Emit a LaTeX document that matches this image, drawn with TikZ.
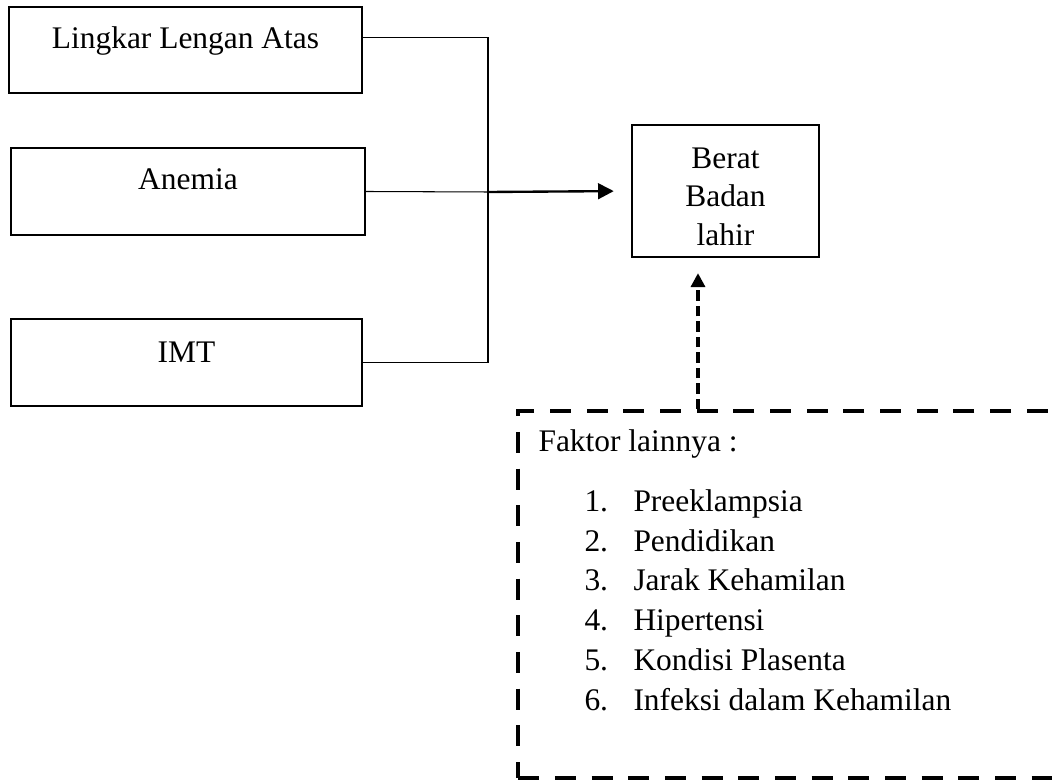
\documentclass[tikz,border=0pt]{standalone}
\usepackage{fontspec}
\setmainfont{Liberation Serif}
\usetikzlibrary{arrows.meta}

\begin{document}
\begin{tikzpicture}[x = 0.3817pt, y = -0.3817pt,
    font = \fontsize{12}{14}\selectfont,
    kotak/.style = {draw, line width = 0.9pt, inner sep = 0pt},
    kotakputus/.style = {draw, line width = 1.7pt, dash pattern = on 8pt off 6pt, inner sep = 0pt},
    teks/.style = {anchor = base, inner sep = 0pt},
    butir/.style = {anchor = base west, inner sep = 0pt},
    garis/.style = {line width = 0.4pt},
    panah/.style = {-{Triangle[length = 6pt, width = 6pt]}, line width = 0.9pt, shorten > = 6.5pt},
    panahputus/.style = {-{Triangle[length = 5.3pt, width = 5.3pt]}, line width = 1.3pt, dash pattern = on 4pt off 1.9pt, shorten > = 5.7pt}]
    \useasboundingbox (0,0) rectangle (1052,783);
    % Kotak kiri
    \node[kotak, minimum width = 134.7pt, minimum height = 32.8pt] (lla) at (185.5,50){};
    \node[teks] (tlla) at (185.5,49){Lingkar Lengan Atas};
    \node[kotak, minimum width = 135.1pt, minimum height = 33.2pt] (anemia) at (188,191.5){};
    \node[teks] (tanemia) at (188,190){Anemia};
    \node[kotak, minimum width = 134.0pt, minimum height = 33.2pt] (imt) at (186.5,362.5){};
    \node[teks] (timt) at (186.5,363){IMT};
    % Kotak Berat Badan lahir
    \node[kotak, minimum width = 71.4pt, minimum height = 50.4pt] (berat) at (725.5,191){};
    \node[teks] (tberat1) at (725.5,169){Berat};
    \node[teks] (tberat2) at (725.5,207){Badan};
    \node[teks] (tberat3) at (725.5,246){lahir};
    % Faktor lainnya (sisi kanan terpotong)
    \node[kotakputus, anchor = north west, minimum width = 206pt, minimum height = 140.1pt] (lain) at (516,409){};
    \node[butir] (tfaktor) at (538,452){Faktor lainnya :};
    \node[butir] (b1) at (584,512){\makebox[18.7pt][l]{1.}Preeklampsia};
    \node[butir] (b2) at (584,552){\makebox[18.7pt][l]{2.}Pendidikan};
    \node[butir] (b3) at (584,591){\makebox[18.7pt][l]{3.}Jarak Kehamilan};
    \node[butir] (b4) at (584,631){\makebox[18.7pt][l]{4.}Hipertensi};
    \node[butir] (b5) at (584,671){\makebox[18.7pt][l]{5.}Kondisi Plasenta};
    \node[butir] (b6) at (584,711){\makebox[18.7pt][l]{6.}Infeksi dalam Kehamilan};
    % Garis penghubung
    \coordinate (simpul) at (488,192);
    \coordinate (sumbu) at (698,0);
    \draw[garis] ([yshift = 4.6pt]lla.east) -| (simpul) |- (imt.east);
    \draw[garis] (anemia.east) -- (simpul);
    \draw[panah] (simpul) -- (berat.west);
    \draw[panahputus] (lain.north -| sumbu) -- (berat.south -| sumbu);
\end{tikzpicture}
\end{document}
